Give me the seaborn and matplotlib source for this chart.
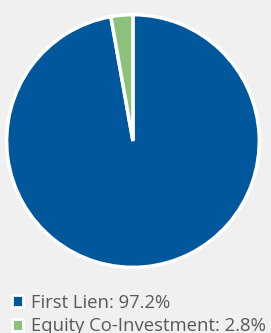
import matplotlib
matplotlib.use("Agg")
import matplotlib.pyplot as plt
import seaborn as sns
from matplotlib.patches import Patch

categories = ["First Lien", "Equity Co-Investment"]
values = [97.2, 2.8]
colors = ["#00579c", "#8cc17b"]

sns.set_style("white")
plt.rcParams["font.family"] = ["Open Sans", "DejaVu Sans"]

bg = "#f0f0f0"
fig = plt.figure(figsize=(2.71, 3.33), dpi=100, facecolor=bg)
ax = fig.add_axes([0.0221, 0.195, 0.937, 0.763])
ax.set_facecolor(bg)
ax.pie(values, colors=colors, startangle=90, counterclock=False,
       wedgeprops=dict(edgecolor="white", linewidth=2.5))
ax.set_xlim(-1.005, 1.005)
ax.set_ylim(-1.005, 1.005)
ax.set_aspect("equal")
ax.axis("off")

handles = [Patch(facecolor=c, edgecolor="white", linewidth=2) for c in colors]
labels = [f"{c}: {v}%" for c, v in zip(categories, values)]
leg = fig.legend(handles, labels, loc="upper left", bbox_to_anchor=(0.045, 0.118),
                 frameon=False, fontsize=13.3, handlelength=0.6, handleheight=0.6,
                 handletextpad=0.4, labelspacing=0.3, borderpad=0, borderaxespad=0,
                 labelcolor="#595959")
fig.savefig("out.png", dpi=100, facecolor=bg)
